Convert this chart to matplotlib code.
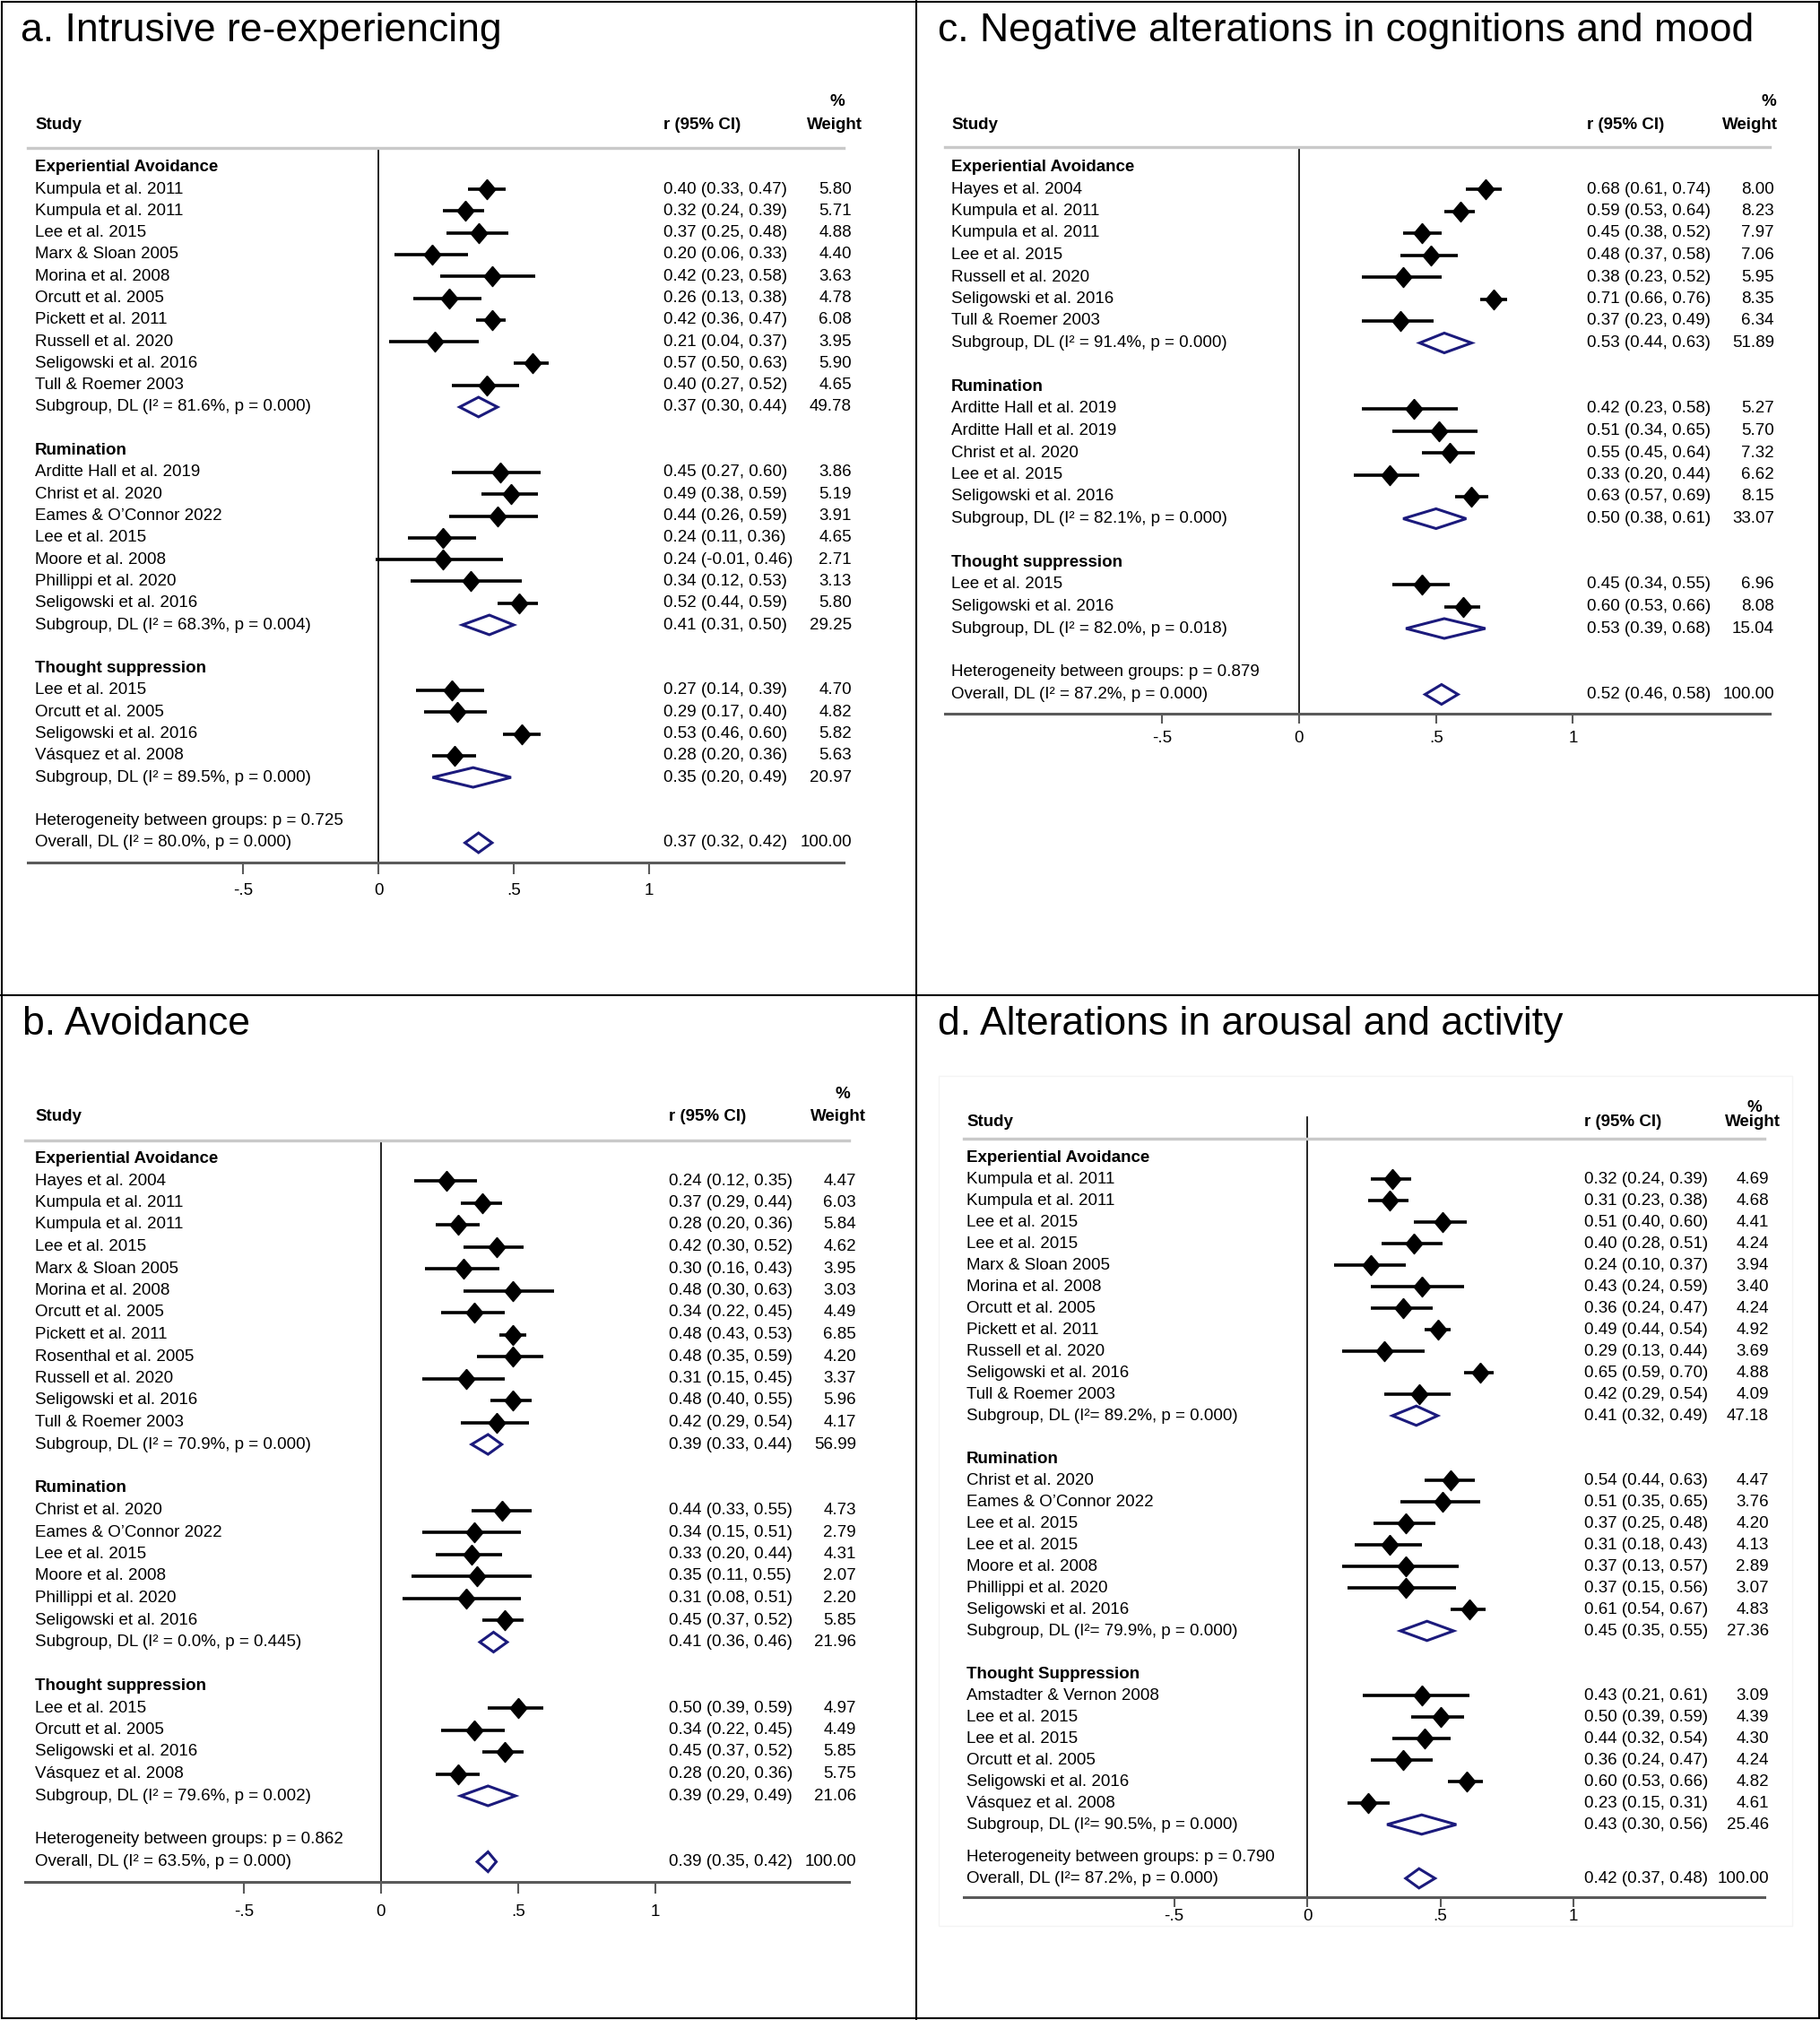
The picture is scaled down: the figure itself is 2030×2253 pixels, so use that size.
import matplotlib
matplotlib.use("Agg")
import matplotlib.pyplot as plt
from matplotlib.patches import Rectangle

plt.rcParams['font.family'] = ['Liberation Sans', 'DejaVu Sans']

W, H = 2031, 2253
FS = 13.5
NAVY = '#1b1a7c'
DIAMOND = [(0, 1), (0.85, 0), (0, -1), (-0.85, 0), (0, 1)]

# ---------- a. Intrusive re-experiencing
a_groups = ["Experiential Avoidance", "Rumination", "Thought suppression"]
a_names = [["Kumpula et al. 2011", "Kumpula et al. 2011", "Lee et al. 2015", "Marx & Sloan 2005",
            "Morina et al. 2008", "Orcutt et al. 2005", "Pickett et al. 2011", "Russell et al. 2020",
            "Seligowski et al. 2016", "Tull & Roemer 2003"],
           ["Arditte Hall et al. 2019", "Christ et al. 2020", "Eames & O’Connor 2022", "Lee et al. 2015",
            "Moore et al. 2008", "Phillippi et al. 2020", "Seligowski et al. 2016"],
           ["Lee et al. 2015", "Orcutt et al. 2005", "Seligowski et al. 2016", "Vásquez et al. 2008"]]
a_r = [[0.40, 0.32, 0.37, 0.20, 0.42, 0.26, 0.42, 0.21, 0.57, 0.40],
       [0.45, 0.49, 0.44, 0.24, 0.24, 0.34, 0.52],
       [0.27, 0.29, 0.53, 0.28]]
a_lo = [[0.33, 0.24, 0.25, 0.06, 0.23, 0.13, 0.36, 0.04, 0.50, 0.27],
        [0.27, 0.38, 0.26, 0.11, -0.01, 0.12, 0.44],
        [0.14, 0.17, 0.46, 0.20]]
a_hi = [[0.47, 0.39, 0.48, 0.33, 0.58, 0.38, 0.47, 0.37, 0.63, 0.52],
        [0.60, 0.59, 0.59, 0.36, 0.46, 0.53, 0.59],
        [0.39, 0.40, 0.60, 0.36]]
a_w = [[5.80, 5.71, 4.88, 4.40, 3.63, 4.78, 6.08, 3.95, 5.90, 4.65],
       [3.86, 5.19, 3.91, 4.65, 2.71, 3.13, 5.80],
       [4.70, 4.82, 5.82, 5.63]]
a_sub_r = [0.37, 0.41, 0.35]
a_sub_lo = [0.30, 0.31, 0.20]
a_sub_hi = [0.44, 0.50, 0.49]
a_sub_w = [49.78, 29.25, 20.97]
a_sub_i2 = ["81.6%", "68.3%", "89.5%"]
a_sub_p = ["0.000", "0.004", "0.000"]
a_het_p = "0.725"
a_tot = [0.37, 0.32, 0.42]
a_tot_i2, a_tot_p = "80.0%", "0.000"

# ---------- b. Avoidance
b_groups = ["Experiential Avoidance", "Rumination", "Thought suppression"]
b_names = [["Hayes et al. 2004", "Kumpula et al. 2011", "Kumpula et al. 2011", "Lee et al. 2015",
            "Marx & Sloan 2005", "Morina et al. 2008", "Orcutt et al. 2005", "Pickett et al. 2011",
            "Rosenthal et al. 2005", "Russell et al. 2020", "Seligowski et al. 2016", "Tull & Roemer 2003"],
           ["Christ et al. 2020", "Eames & O’Connor 2022", "Lee et al. 2015", "Moore et al. 2008",
            "Phillippi et al. 2020", "Seligowski et al. 2016"],
           ["Lee et al. 2015", "Orcutt et al. 2005", "Seligowski et al. 2016", "Vásquez et al. 2008"]]
b_r = [[0.24, 0.37, 0.28, 0.42, 0.30, 0.48, 0.34, 0.48, 0.48, 0.31, 0.48, 0.42],
       [0.44, 0.34, 0.33, 0.35, 0.31, 0.45],
       [0.50, 0.34, 0.45, 0.28]]
b_lo = [[0.12, 0.29, 0.20, 0.30, 0.16, 0.30, 0.22, 0.43, 0.35, 0.15, 0.40, 0.29],
        [0.33, 0.15, 0.20, 0.11, 0.08, 0.37],
        [0.39, 0.22, 0.37, 0.20]]
b_hi = [[0.35, 0.44, 0.36, 0.52, 0.43, 0.63, 0.45, 0.53, 0.59, 0.45, 0.55, 0.54],
        [0.55, 0.51, 0.44, 0.55, 0.51, 0.52],
        [0.59, 0.45, 0.52, 0.36]]
b_w = [[4.47, 6.03, 5.84, 4.62, 3.95, 3.03, 4.49, 6.85, 4.20, 3.37, 5.96, 4.17],
       [4.73, 2.79, 4.31, 2.07, 2.20, 5.85],
       [4.97, 4.49, 5.85, 5.75]]
b_sub_r = [0.39, 0.41, 0.39]
b_sub_lo = [0.33, 0.36, 0.29]
b_sub_hi = [0.44, 0.46, 0.49]
b_sub_w = [56.99, 21.96, 21.06]
b_sub_i2 = ["70.9%", "0.0%", "79.6%"]
b_sub_p = ["0.000", "0.445", "0.002"]
b_het_p = "0.862"
b_tot = [0.39, 0.35, 0.42]
b_tot_i2, b_tot_p = "63.5%", "0.000"

# ---------- c. Negative alterations in cognitions and mood
c_groups = ["Experiential Avoidance", "Rumination", "Thought suppression"]
c_names = [["Hayes et al. 2004", "Kumpula et al. 2011", "Kumpula et al. 2011", "Lee et al. 2015",
            "Russell et al. 2020", "Seligowski et al. 2016", "Tull & Roemer 2003"],
           ["Arditte Hall et al. 2019", "Arditte Hall et al. 2019", "Christ et al. 2020",
            "Lee et al. 2015", "Seligowski et al. 2016"],
           ["Lee et al. 2015", "Seligowski et al. 2016"]]
c_r = [[0.68, 0.59, 0.45, 0.48, 0.38, 0.71, 0.37],
       [0.42, 0.51, 0.55, 0.33, 0.63],
       [0.45, 0.60]]
c_lo = [[0.61, 0.53, 0.38, 0.37, 0.23, 0.66, 0.23],
        [0.23, 0.34, 0.45, 0.20, 0.57],
        [0.34, 0.53]]
c_hi = [[0.74, 0.64, 0.52, 0.58, 0.52, 0.76, 0.49],
        [0.58, 0.65, 0.64, 0.44, 0.69],
        [0.55, 0.66]]
c_w = [[8.00, 8.23, 7.97, 7.06, 5.95, 8.35, 6.34],
       [5.27, 5.70, 7.32, 6.62, 8.15],
       [6.96, 8.08]]
c_sub_r = [0.53, 0.50, 0.53]
c_sub_lo = [0.44, 0.38, 0.39]
c_sub_hi = [0.63, 0.61, 0.68]
c_sub_w = [51.89, 33.07, 15.04]
c_sub_i2 = ["91.4%", "82.1%", "82.0%"]
c_sub_p = ["0.000", "0.000", "0.018"]
c_het_p = "0.879"
c_tot = [0.52, 0.46, 0.58]
c_tot_i2, c_tot_p = "87.2%", "0.000"

# ---------- d. Alterations in arousal and activity
d_groups = ["Experiential Avoidance", "Rumination", "Thought Suppression"]
d_names = [["Kumpula et al. 2011", "Kumpula et al. 2011", "Lee et al. 2015", "Lee et al. 2015",
            "Marx & Sloan 2005", "Morina et al. 2008", "Orcutt et al. 2005", "Pickett et al. 2011",
            "Russell et al. 2020", "Seligowski et al. 2016", "Tull & Roemer 2003"],
           ["Christ et al. 2020", "Eames & O’Connor 2022", "Lee et al. 2015", "Lee et al. 2015",
            "Moore et al. 2008", "Phillippi et al. 2020", "Seligowski et al. 2016"],
           ["Amstadter & Vernon 2008", "Lee et al. 2015", "Lee et al. 2015", "Orcutt et al. 2005",
            "Seligowski et al. 2016", "Vásquez et al. 2008"]]
d_r = [[0.32, 0.31, 0.51, 0.40, 0.24, 0.43, 0.36, 0.49, 0.29, 0.65, 0.42],
       [0.54, 0.51, 0.37, 0.31, 0.37, 0.37, 0.61],
       [0.43, 0.50, 0.44, 0.36, 0.60, 0.23]]
d_lo = [[0.24, 0.23, 0.40, 0.28, 0.10, 0.24, 0.24, 0.44, 0.13, 0.59, 0.29],
        [0.44, 0.35, 0.25, 0.18, 0.13, 0.15, 0.54],
        [0.21, 0.39, 0.32, 0.24, 0.53, 0.15]]
d_hi = [[0.39, 0.38, 0.60, 0.51, 0.37, 0.59, 0.47, 0.54, 0.44, 0.70, 0.54],
        [0.63, 0.65, 0.48, 0.43, 0.57, 0.56, 0.67],
        [0.61, 0.59, 0.54, 0.47, 0.66, 0.31]]
d_w = [[4.69, 4.68, 4.41, 4.24, 3.94, 3.40, 4.24, 4.92, 3.69, 4.88, 4.09],
       [4.47, 3.76, 4.20, 4.13, 2.89, 3.07, 4.83],
       [3.09, 4.39, 4.30, 4.24, 4.82, 4.61]]
d_sub_r = [0.41, 0.45, 0.43]
d_sub_lo = [0.32, 0.35, 0.30]
d_sub_hi = [0.49, 0.55, 0.56]
d_sub_w = [47.18, 27.36, 25.46]
d_sub_i2 = ["89.2%", "79.9%", "90.5%"]
d_sub_p = ["0.000", "0.000", "0.000"]
d_het_p = "0.790"
d_tot = [0.42, 0.37, 0.48]
d_tot_i2, d_tot_p = "87.2%", "0.000"

ticks = [-0.5, 0, 0.5, 1]
tick_labels = ["-.5", "0", ".5", "1"]

fig = plt.figure(figsize=(W / 100, H / 100), dpi=100)


def forest(g, groups, names, r, lo, hi, w, sub_r, sub_lo, sub_hi, sub_w, sub_i2, sub_p,
           het_p, tot, tot_i2, tot_p, gap=1.0, i2sep=" = "):
    fig.text(g['tx'] / W, 1 - g['ty'] / H, g['title'], fontsize=32, va='baseline')
    ax = fig.add_axes([g['left'] / W, 1 - g['bottom'] / H,
                       (g['right'] - g['left']) / W, (g['bottom'] - g['top']) / H])
    ax.patch.set_visible(False)
    px = lambda p: (p - g['zero']) / g['unit']
    row = lambda p: (p - g['row0']) / g['pitch']
    ax.set_xlim(px(g['left']), px(g['right']))
    ax.set_ylim(row(g['bottom']), row(g['top']))

    for s in ['left', 'right']:
        ax.spines[s].set_visible(False)
    ax.spines['top'].set_color('#c9c9c9')
    ax.spines['top'].set_linewidth(2.4)
    ax.spines['bottom'].set_color('#5a5a5a')
    ax.spines['bottom'].set_linewidth(2.2)
    ax.set_yticks([])
    ax.set_xticks(ticks)
    ax.set_xticklabels(tick_labels)
    pad = max(0.0, g['lab_y'] - g['bottom'] - g['tlen'] - 10.3) * 0.72
    ax.tick_params(axis='x', direction='out', length=g['tlen'] * 0.72, width=1.5,
                   color='#5a5a5a', labelsize=FS, pad=pad)

    ztop = 1 + (g['top'] - g.get('ztop', g['top'])) / (g['bottom'] - g['top'])
    ax.axvline(0, ymin=0, ymax=ztop, color='black', lw=1.2, clip_on=False, zorder=1)

    lx, cx, wx = px(g['lab_x']), px(g['ci_x']), px(g['wt_x'])
    hy = row(g['head_y'])
    ax.text(lx, hy, "Study", fontsize=FS, weight='bold', va='center')
    ax.text(cx, hy, "r (95% CI)", fontsize=FS, weight='bold', va='center')
    ax.text(px(g['w_cx']), hy, "Weight", fontsize=FS, weight='bold', va='center', ha='center')
    ax.text(px(g['pct_x']), row(g['pct_y']), "%", fontsize=FS, weight='bold', va='center', ha='center')

    def open_diamond(m, l, h, k):
        hh = 0.45
        ax.fill([l, m, h, m, l], [k, k - hh, k, k + hh, k], facecolor='white',
                edgecolor=NAVY, lw=2.2, zorder=3)

    def stats(m, l, h, wt, k):
        ax.text(cx, k, f"{m:.2f} ({l:.2f}, {h:.2f})", fontsize=FS, va='center')
        ax.text(wx, k, f"{wt:.2f}", fontsize=FS, va='center', ha='right')

    k = 0
    for gi, grp in enumerate(groups):
        ax.text(lx, k - 1, grp, fontsize=FS, weight='bold', va='center')
        for j, name in enumerate(names[gi]):
            ax.hlines(k, lo[gi][j], hi[gi][j], color='black', lw=2.6, zorder=2)
            ax.plot(r[gi][j], k, marker=DIAMOND, ms=16, color='black', zorder=3)
            ax.text(lx, k, name, fontsize=FS, va='center')
            stats(r[gi][j], lo[gi][j], hi[gi][j], w[gi][j], k)
            k += 1
        open_diamond(sub_r[gi], sub_lo[gi], sub_hi[gi], k)
        ax.text(lx, k, f"Subgroup, DL (I²{i2sep}{sub_i2[gi]}, p = {sub_p[gi]})", fontsize=FS, va='center')
        stats(sub_r[gi], sub_lo[gi], sub_hi[gi], sub_w[gi], k)
        k += 3
    kh = k - 3 + 1 + gap
    ax.text(lx, kh, f"Heterogeneity between groups: p = {het_p}", fontsize=FS, va='center')
    ko = kh + 1
    open_diamond(tot[0], tot[1], tot[2], ko)
    ax.text(lx, ko, f"Overall, DL (I²{i2sep}{tot_i2}, p = {tot_p})", fontsize=FS, va='center')
    stats(tot[0], tot[1], tot[2], 100.0, ko)
    return ax


geo_a = dict(title="a. Intrusive re-experiencing", tx=23, ty=46, left=31, right=941, zero=422,
             unit=302, row0=211, pitch=24.3, top=165, bottom=962, lab_x=39, ci_x=740, wt_x=950,
             head_y=139, pct_y=114, w_cx=931, pct_x=934, lab_y=995, tlen=13)
geo_c = dict(title="c. Negative alterations in cognitions and mood", tx=1046, ty=46, left=1054,
             right=1974, zero=1449, unit=305.5, row0=211, pitch=24.5, top=164, bottom=796,
             lab_x=1061, ci_x=1770, wt_x=1979, head_y=139, pct_y=114, w_cx=1952, pct_x=1973,
             lab_y=825, tlen=11)
geo_b = dict(title="b. Avoidance", tx=25, ty=1154, left=28, right=947, zero=425, unit=306,
             row0=1317, pitch=24.5, top=1272, bottom=2099, lab_x=39, ci_x=746, wt_x=955,
             head_y=1245, pct_y=1221, w_cx=935, pct_x=940, lab_y=2134, tlen=13)
geo_d = dict(title="d. Alterations in arousal and activity", tx=1046, ty=1154, left=1075,
             right=1968, zero=1458, unit=297, row0=1315, pitch=24.0, top=1270, bottom=2116,
             lab_x=1078, ci_x=1767, wt_x=1973, head_y=1252, pct_y=1236, w_cx=1955, pct_x=1957,
             lab_y=2139, tlen=11, ztop=1246)

forest(geo_a, a_groups, a_names, a_r, a_lo, a_hi, a_w, a_sub_r, a_sub_lo, a_sub_hi, a_sub_w,
       a_sub_i2, a_sub_p, a_het_p, a_tot, a_tot_i2, a_tot_p)
forest(geo_b, b_groups, b_names, b_r, b_lo, b_hi, b_w, b_sub_r, b_sub_lo, b_sub_hi, b_sub_w,
       b_sub_i2, b_sub_p, b_het_p, b_tot, b_tot_i2, b_tot_p)
forest(geo_c, c_groups, c_names, c_r, c_lo, c_hi, c_w, c_sub_r, c_sub_lo, c_sub_hi, c_sub_w,
       c_sub_i2, c_sub_p, c_het_p, c_tot, c_tot_i2, c_tot_p)
forest(geo_d, d_groups, d_names, d_r, d_lo, d_hi, d_w, d_sub_r, d_sub_lo, d_sub_hi, d_sub_w,
       d_sub_i2, d_sub_p, d_het_p, d_tot, d_tot_i2, d_tot_p, gap=0.5, i2sep="= ")

# panel frames
fig.add_artist(Rectangle((1.5 / W, 1 - 2250.5 / H), 2027.5 / W, 2249 / H, transform=fig.transFigure,
                         fill=False, ec='black', lw=1.5))
fig.add_artist(plt.Line2D([1022 / W, 1022 / W], [0, 1], transform=fig.transFigure, color='black', lw=1.5))
fig.add_artist(plt.Line2D([0, 1], [1 - 1110 / H, 1 - 1110 / H], transform=fig.transFigure,
                          color='black', lw=1.5))
fig.add_artist(Rectangle((1047 / W, 1 - 2148 / H), 952 / W, 948 / H, transform=fig.transFigure,
                         fill=False, ec='#f4f4f4', lw=1.0))

fig.savefig("out.png", dpi=100)
